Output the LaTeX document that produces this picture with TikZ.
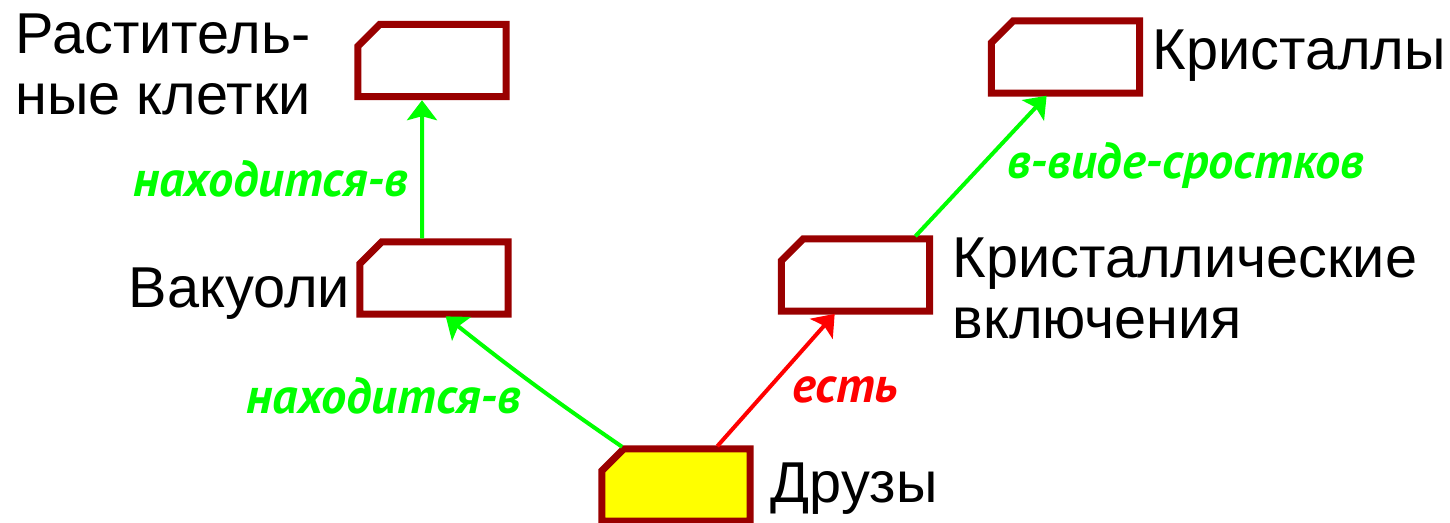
\documentclass[tikz,border=0pt]{standalone}
\usepackage{fontspec}
\setmainfont{Liberation Sans}
\newfontfamily\labelfont{PT Sans}
\usetikzlibrary{arrows.meta}

\definecolor{boxred}{RGB}{153,0,0}
\definecolor{linkgreen}{RGB}{0,255,0}
\definecolor{linkred}{RGB}{255,0,0}
\definecolor{drusefill}{RGB}{255,255,0}

\begin{document}
\begin{tikzpicture}[
    concept/.style = {rectangle, minimum width=1.47cm, minimum height=0.71cm, inner sep=0pt},
    boxline/.style = {draw=boxred, line width=0.07cm},
    caption/.style = {font=\fontsize{16.4pt}{17.4pt}\selectfont, inner sep=0pt, align=left},
    relation/.style = {line width=0.04cm, -{Stealth[length=0.2cm,width=0.3cm,inset=0.04cm]},
        shorten >=0.035cm, shorten <=0.035cm},
    rellabel/.style = {font=\labelfont\fontsize{14.3pt}{16pt}\selectfont\bfseries\itshape, inner sep=0pt, anchor=base}
]
                        \useasboundingbox (0,0) rectangle (14.5,-5.23);
                        % concepts
                        \node[concept] (cells) at (4.32,-0.605) {};
                        \node[concept] (vacuole) at (4.34,-2.78) {};
                        \node[concept] (inclusion) at (8.555,-2.75) {};
                        \node[concept] (crystals) at (10.655,-0.57) {};
                        \node[concept] (druse) at (6.76,-4.85) {};
                        \foreach \n/\c in {cells/white,vacuole/white,inclusion/white,crystals/white,druse/drusefill}
                            {\draw[boxline, fill=\c] (\n.south west) -- (\n.south east) -- (\n.north east)
                                -- ([xshift=0.22cm]\n.north west) -- ([yshift=-0.22cm]\n.north west) -- cycle;}
                        % names
                        \node[caption, anchor=north west] (cellsname) at (0.15,-0.13) {Раститель-\\ные клетки};
                        \node[caption, anchor=base west] (vacuolename) at (1.28,-3.07) {Вакуоли};
                        \node[caption, anchor=north west] (inclusionname) at (9.52,-2.37) {Кристаллические\\включения};
                        \node[caption, anchor=base west] (crystalsname) at (11.52,-0.70) {Кристаллы};
                        \node[caption, anchor=base west] (drusename) at (7.70,-5.02) {Друзы};
                        % relations
                        \draw[relation, linkgreen] ([xshift=-0.12cm]vacuole.north) -- ([xshift=-0.10cm]cells.south);
                        \draw[relation, linkgreen] ([xshift=-0.51cm]druse.north) to[bend left=2] ([xshift=0.09cm]vacuole.south);
                        \draw[relation, linkred] ([xshift=0.39cm]druse.north) -- ([xshift=-0.185cm]inclusion.south);
                        \draw[relation, linkgreen] ([xshift=0.575cm]inclusion.north) -- ([xshift=-0.165cm]crystals.south);
                        \node[rellabel, linkgreen] (inlabel1) at (2.705,-1.97) {находится-в};
                        \node[rellabel, linkgreen] (inlabel2) at (3.84,-4.13) {находится-в};
                        \node[rellabel, linkgreen] (growlabel) at (11.855,-1.79) {в-виде-сростков};
                        \node[rellabel, linkred] (haslabel) at (8.45,-4.02) {есть};
\end{tikzpicture}
\end{document}
